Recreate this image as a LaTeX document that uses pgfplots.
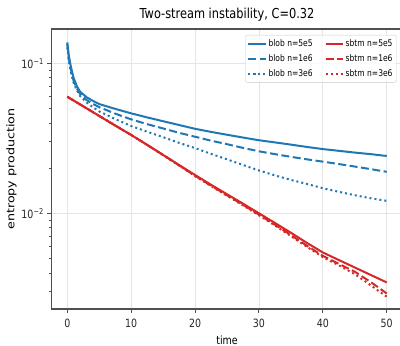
\documentclass[border=0pt]{standalone}
\usepackage{pgfplots}
\pgfplotsset{compat=1.18}
\usepackage{graphicx}
\usepackage{fontspec}
\setmainfont{DejaVu Sans}[FakeStretch=0.83]
\newfontfamily\ylfont{DejaVu Sans}
\definecolor{mblue}{HTML}{1F77B4}
\definecolor{mred}{HTML}{D62728}
\definecolor{spine}{HTML}{505050}
\pgfplotstableread{
t b5 b1 b3
0 0.138 0.135 0.128
0.25 0.112 0.108 0.103
0.5 0.098 0.094 0.090
0.75 0.088 0.084 0.081
1 0.0798 0.076 0.074
1.5 0.0705 0.068 0.066
2 0.0647 0.0625 0.0605
3 0.0595 0.0570 0.0550
4 0.0562 0.0537 0.0510
5 0.0535 0.0510 0.0478
7.5 0.0497 0.0462 0.0425
10 0.0464 0.0423 0.0382
12.5 0.0436 0.0393 0.0350
15 0.0411 0.0368 0.0322
17.5 0.0388 0.0344 0.0295
20 0.0366 0.0324 0.0272
22.5 0.0349 0.0305 0.0249
25 0.0334 0.0289 0.0229
27.5 0.0320 0.0273 0.0210
30 0.0307 0.0259 0.0193
32.5 0.0297 0.0248 0.0179
35 0.0287 0.0238 0.0167
37.5 0.0277 0.0229 0.0157
40 0.0268 0.0221 0.0147
42.5 0.0261 0.0213 0.0139
45 0.0254 0.0205 0.0132
47.5 0.0248 0.0197 0.0126
50 0.0241 0.0189 0.0121
}\blob
\pgfplotstableread{
t s5 s1 s3
0 0.0599 0.0599 0.0599
2.5 0.0517 0.0517 0.0517
5 0.0446 0.0446 0.0446
7.5 0.0385 0.0385 0.0385
10 0.0333 0.0333 0.0333
12.5 0.0286 0.0286 0.0286
15 0.0245 0.0245 0.0244
17.5 0.0210 0.0209 0.0208
20 0.0180 0.0178 0.0177
22.5 0.0155 0.0153 0.0152
25 0.0134 0.0132 0.0131
27.5 0.0116 0.0114 0.0113
30 0.0100 0.0098 0.0097
32.5 0.00862 0.00840 0.00830
35 0.00742 0.00716 0.00705
37.5 0.00635 0.00608 0.00598
40 0.00548 0.00520 0.00510
42.5 0.00488 0.00460 0.00450
45 0.00435 0.00408 0.00393
47.5 0.00388 0.00348 0.00331
50 0.00346 0.00292 0.00278
}\sbtm
\begin{document}
\begin{tikzpicture}
\path[use as bounding box] (0,0) rectangle (400pt,346pt);
\begin{axis}[
  at={(51.3pt,37pt)}, anchor=south west,
  scale only axis, width=351.4pt, height=280pt,
  ymode=log,
  xmin=-2.5, xmax=52.5, ymin=0.0023, ymax=0.1694,
  xtick={0,10,20,30,40,50},
  ytick={0.01,0.1},
  yticklabels={10\textsuperscript{−2},10\textsuperscript{−1}},
  minor ytick={0.003,0.004,0.005,0.006,0.007,0.008,0.009,0.02,0.03,0.04,0.05,0.06,0.07,0.08,0.09},
  /pgf/number format/assume math mode=true,
  tick align=outside, xtick pos=bottom, ytick pos=left,
  major tick length=4pt, minor tick length=2.3pt,
  every tick/.style={spine, line width=0.9pt},
  axis line style={spine, line width=1.2pt},
  grid=major, major grid style={black!10, line width=0.8pt},
  tick label style={font=\fontsize{11.4}{13}\selectfont, black!85},
  xticklabel style={yshift=-3pt},
  title={Two-stream instability, C=0.32},
  title style={font=\fontsize{13.7}{16}\selectfont, yshift=-2pt},
  xlabel={time},
  xlabel style={font=\fontsize{11.4}{13}\selectfont, yshift=-1pt},
  ylabel={\scalebox{1}[0.83]{\ylfont entropy production}},
  ylabel style={font=\fontsize{12.7}{14}\selectfont, yshift=-2pt},
  legend columns=2,
  legend cell align=left,
  legend style={at={(0.983,0.979)}, anchor=north east,
    font=\fontsize{9.1}{11}\selectfont, draw=black!20, rounded corners=2pt,
    fill=white, fill opacity=0.8, text opacity=1,
    inner xsep=2pt, inner ysep=2.5pt, row sep=2.5pt,
    /tikz/every even column/.append style={column sep=10pt}},
]
\addplot[mblue, line width=2pt] table[x=t,y=b5]{\blob};
\addlegendentry{blob n=5e5}
\addplot[mred, line width=2pt] table[x=t,y=s5]{\sbtm};
\addlegendentry{sbtm n=5e5}
\addplot[mblue, line width=2pt, dash pattern=on 8pt off 3.5pt] table[x=t,y=b1]{\blob};
\addlegendentry{blob n=1e6}
\addplot[mred, line width=2pt, dash pattern=on 8pt off 3.5pt] table[x=t,y=s1]{\sbtm};
\addlegendentry{sbtm n=1e6}
\addplot[mblue, line width=2pt, dash pattern=on 2pt off 3pt] table[x=t,y=b3]{\blob};
\addlegendentry{blob n=3e6}
\addplot[mred, line width=2pt, dash pattern=on 2pt off 3pt] table[x=t,y=s3]{\sbtm};
\addlegendentry{sbtm n=3e6}
\end{axis}
\end{tikzpicture}
\end{document}
